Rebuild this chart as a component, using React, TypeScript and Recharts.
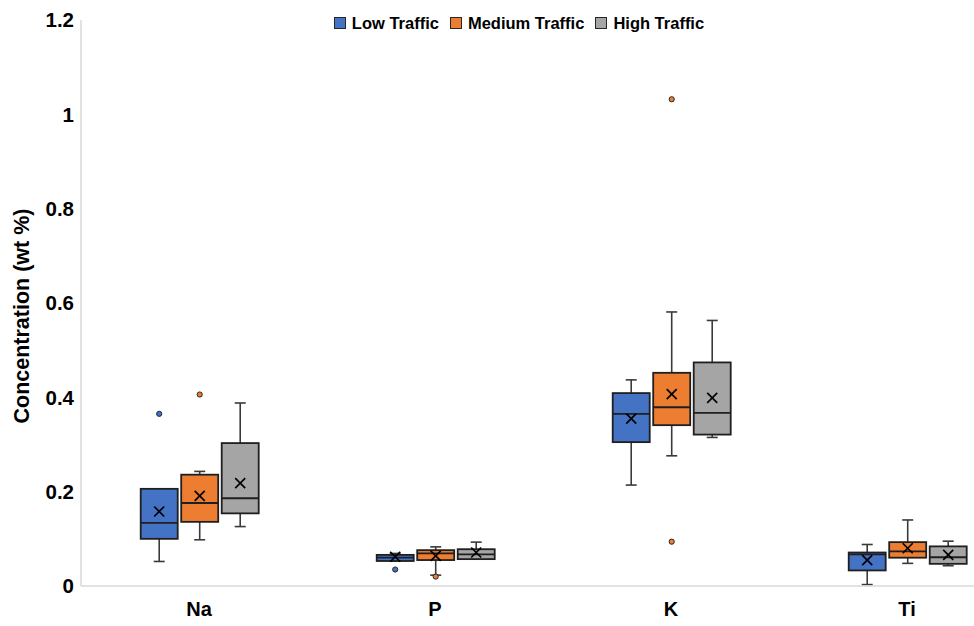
import React from 'react';
import { ComposedChart, Bar, XAxis, YAxis, Legend } from 'recharts';

// Categories (elements)
const categories = ['Na', 'P', 'K', 'Ti'];
const seriesNames = ['Low Traffic', 'Medium Traffic', 'High Traffic'];
const seriesColors = ['#4472C4', '#ED7D31', '#A5A5A5'];
const yTicks = [0, 0.2, 0.4, 0.6, 0.8, 1, 1.2];

// Box statistics per category: [min whisker, Q1, median, Q3, max whisker, mean]
const lowTraffic = [
  [0.052, 0.1, 0.134, 0.206, 0.206, 0.158],
  [0.053, 0.053, 0.06, 0.066, 0.069, 0.062],
  [0.214, 0.305, 0.365, 0.409, 0.437, 0.355],
  [0.003, 0.033, 0.067, 0.071, 0.088, 0.055],
];
const mediumTraffic = [
  [0.098, 0.136, 0.176, 0.236, 0.243, 0.191],
  [0.023, 0.055, 0.069, 0.076, 0.083, 0.064],
  [0.276, 0.341, 0.379, 0.452, 0.581, 0.407],
  [0.048, 0.06, 0.0735, 0.093, 0.14, 0.08],
];
const highTraffic = [
  [0.126, 0.154, 0.186, 0.303, 0.388, 0.218],
  [0.057, 0.057, 0.067, 0.078, 0.093, 0.071],
  [0.315, 0.321, 0.367, 0.474, 0.563, 0.399],
  [0.043, 0.047, 0.061, 0.084, 0.095, 0.066],
];

// Outliers per category
const lowOutliers = [[0.365], [0.035], [], []];
const mediumOutliers = [[0.406], [0.02], [0.094, 1.032], []];
const highOutliers = [[], [], [], []];

const seriesStats = [lowTraffic, mediumTraffic, highTraffic];
const seriesOutliers = [lowOutliers, mediumOutliers, highOutliers];

const data = categories.map((cat, i) => {
  const row: any = { name: cat };
  seriesStats.forEach((stats, s) => {
    const [mn, q1, med, q3, mx, mean] = stats[i];
    row[`s${s}`] = [q1, q3];
    row[`st${s}`] = { mn, q1, med, q3, mx, mean, outliers: seriesOutliers[s][i] };
  });
  return row;
});

const FONT = '"Liberation Sans", Arial, sans-serif';

const makeBoxShape = (s: number) => (props: any) => {
  const { x, y, width, height, payload } = props;
  const st = payload[`st${s}`];
  if (!st || width == null) return <g />;
  const top = Math.min(y, y + height);
  const bottom = Math.max(y, y + height);
  const ppu = (bottom - top) / (st.q3 - st.q1);
  const py = (v: number) => bottom - (v - st.q1) * ppu;
  const cx = x + width / 2;
  const cap = 5.5;
  const m = 5;
  const stroke = '#1f1f1f';
  const wh = '#3a3a3a';
  return (
    <g>
      <line x1={cx} x2={cx} y1={py(st.mx)} y2={top} stroke={wh} strokeWidth={1.6} />
      <line x1={cx - cap} x2={cx + cap} y1={py(st.mx)} y2={py(st.mx)} stroke={wh} strokeWidth={1.6} />
      <line x1={cx} x2={cx} y1={bottom} y2={py(st.mn)} stroke={wh} strokeWidth={1.6} />
      <line x1={cx - cap} x2={cx + cap} y1={py(st.mn)} y2={py(st.mn)} stroke={wh} strokeWidth={1.6} />
      <rect x={x} y={top} width={width} height={bottom - top} fill={seriesColors[s]} stroke={stroke} strokeWidth={1.8} />
      <line x1={x} x2={x + width} y1={py(st.med)} y2={py(st.med)} stroke={stroke} strokeWidth={1.8} />
      <line x1={cx - m} x2={cx + m} y1={py(st.mean) - m} y2={py(st.mean) + m} stroke="#000" strokeWidth={1.7} />
      <line x1={cx - m} x2={cx + m} y1={py(st.mean) + m} y2={py(st.mean) - m} stroke="#000" strokeWidth={1.7} />
      {st.outliers.map((v: number, k: number) => (
        <circle key={k} cx={cx} cy={py(v)} r={2.6} fill={seriesColors[s]} stroke="#262626" strokeWidth={1} />
      ))}
    </g>
  );
};

const renderLegend = () => (
  <div style={{ display: 'flex', justifyContent: 'center', fontFamily: FONT, fontWeight: 700, fontSize: 16.5, color: '#000', lineHeight: '20px' }}>
    {seriesNames.map((name, i) => (
      <div key={name} style={{ display: 'flex', alignItems: 'center', marginRight: i < seriesNames.length - 1 ? 11 : 0 }}>
        <span style={{ display: 'inline-block', width: 10, height: 10, background: seriesColors[i], border: '1px solid #262626', marginRight: 6 }} />
        <span>{name}</span>
      </div>
    ))}
  </div>
);

const YLabel = (props: any) => {
  const vb = props.viewBox || {};
  const cx = 29;
  const cy = vb.y + vb.height / 2 + 13;
  return (
    <text x={cx} y={cy} transform={`rotate(-90, ${cx}, ${cy})`} textAnchor="middle" fontFamily={FONT} fontWeight={700} fontSize={21.5} fill="#000">
      Concentration (wt %)
    </text>
  );
};

export default function App() {
  return (
    <div style={{ position: 'fixed', left: 0, top: 0, width: 974, height: 626, overflow: 'hidden', background: '#fff' }}>
      <ComposedChart
        width={1030}
        height={626}
        data={data}
        margin={{ top: 20, right: 5, left: 0, bottom: 10 }}
        barCategoryGap="25.3%"
        barGap={3.5}
      >
        <XAxis
          dataKey="name"
          axisLine={{ stroke: '#d9d9d9', strokeWidth: 1.5 }}
          tickLine={false}
          tickSize={0}
          tickMargin={16}
          height={30}
          interval={0}
          tick={{ fontFamily: FONT, fontWeight: 700, fontSize: 20, fill: '#000' }}
        />
        <YAxis
          width={81}
          domain={[0, 1.2]}
          ticks={yTicks}
          interval={0}
          axisLine={{ stroke: '#d9d9d9', strokeWidth: 1.5 }}
          tickLine={false}
          tickSize={0}
          tickMargin={7}
          tickFormatter={(v: number) => String(v)}
          tick={{ fontFamily: FONT, fontWeight: 700, fontSize: 20.5, fill: '#000' }}
          label={<YLabel />}
        />
        <Legend
          verticalAlign="middle"
          layout="horizontal"
          align="center"
          wrapperStyle={{ top: 13, left: 4, width: 1030 }}
          content={renderLegend}
        />
        {seriesNames.map((name, s) => (
          <Bar
            key={name}
            name={name}
            dataKey={`s${s}`}
            fill={seriesColors[s]}
            shape={makeBoxShape(s)}
            isAnimationActive={false}
          />
        ))}
      </ComposedChart>
    </div>
  );
}
